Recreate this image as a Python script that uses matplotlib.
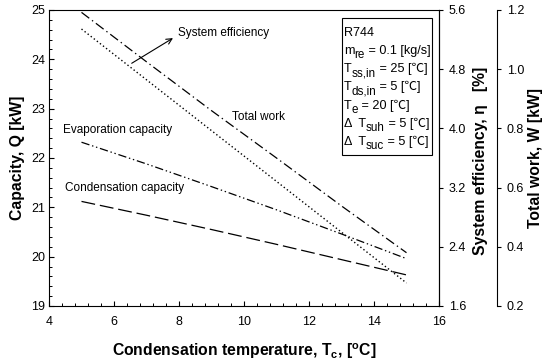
import matplotlib
matplotlib.use("Agg")
import matplotlib.pyplot as plt
from matplotlib.ticker import MultipleLocator, FormatStrFormatter
from matplotlib.patches import Rectangle

plt.rcParams["font.family"] = ["Liberation Sans", "DejaVu Sans"]
plt.rcParams["mathtext.fontset"] = "custom"
plt.rcParams["mathtext.rm"] = "Liberation Sans"
plt.rcParams["mathtext.it"] = "Liberation Sans:italic"
plt.rcParams["mathtext.bf"] = "Liberation Sans:bold"
plt.rcParams["lines.scale_dashes"] = False

# Condensation temperature [C]
cond_temp = [5, 7, 9, 11, 13, 15]
# Capacities [kW] (left axis)
evap_capacity = [22.32, 21.88, 21.42, 20.95, 20.46, 19.96]
cond_capacity = [21.12, 20.84, 20.55, 20.25, 19.94, 19.63]
# System efficiency [%] (first right axis)
system_eff = [5.343, 4.657, 3.970, 3.284, 2.597, 1.911]
# Total work [kW] (second right axis)
total_work = [1.192, 1.025, 0.860, 0.700, 0.538, 0.380]

x_ticks = [4, 6, 8, 10, 12, 14, 16]
q_ticks = [19, 20, 21, 22, 23, 24, 25]
eta_ticks = [1.6, 2.4, 3.2, 4.0, 4.8, 5.6]
w_ticks = [0.2, 0.4, 0.6, 0.8, 1.0, 1.2]

W, H = 555, 362
fig = plt.figure(figsize=(W / 100, H / 100), dpi=100)
ax = fig.add_axes([49 / W, 1 - 306 / H, 390 / W, 296 / H])
ax_eta = ax.twinx()
ax_w = ax.twinx()

lw = 0.9
ax.plot(cond_temp, evap_capacity, color="black", lw=lw,
        linestyle=(0, (6, 2, 1, 2, 1, 2)))
ax.plot(cond_temp, cond_capacity, color="black", lw=lw,
        linestyle=(0, (10, 3.5)))
ax_eta.plot(cond_temp, system_eff, color="black", lw=1.0,
            linestyle=(0, (1, 1.8)))
ax_w.plot(cond_temp, total_work, color="black", lw=lw,
          linestyle=(0, (7, 2.5, 1, 2.5)))

ax.set_xlim(4, 16)
ax.set_ylim(19, 25)
ax_eta.set_ylim(1.6, 5.6)
ax_w.set_ylim(0.2, 1.2)

tick_fs = 9
ax.set_xticks(x_ticks)
ax.set_yticks(q_ticks)
ax.xaxis.set_minor_locator(MultipleLocator(0.4))
ax.yaxis.set_minor_locator(MultipleLocator(0.2))
ax.tick_params(which="major", direction="in", length=3.4, width=0.8,
               labelsize=tick_fs, top=False, right=False)
ax.tick_params(which="minor", direction="in", length=2.2, width=0.7,
               top=False, right=False)
ax.tick_params(axis="x", which="major", pad=7.5)
ax.tick_params(axis="y", which="major", pad=3)

ax_eta.set_yticks(eta_ticks)
ax_eta.yaxis.set_major_formatter(FormatStrFormatter("%.1f"))
ax_eta.tick_params(direction="out", length=3.0, width=0.8,
                   labelsize=tick_fs, pad=4)
ax_w.set_yticks(w_ticks)
ax_w.yaxis.set_major_formatter(FormatStrFormatter("%.1f"))
ax_w.tick_params(direction="out", length=3.0, width=0.8,
                 labelsize=tick_fs, pad=4)
ax_w.spines["right"].set_position(("axes", 448 / 390))

for a in (ax, ax_eta, ax_w):
    for s in a.spines.values():
        s.set_linewidth(0.8)
for a in (ax_eta, ax_w):
    for side in ("left", "top", "bottom"):
        a.spines[side].set_visible(False)

label_fs = 11.3
ax.set_xlabel(r"Condensation temperature, T$_\mathbf{c}$, [$^\mathbf{o}$C]",
              fontsize=label_fs, fontweight="bold")
ax.xaxis.set_label_coords(0.5, (306 - 341) / 296)
ax.set_ylabel("Capacity, Q [kW]", fontsize=label_fs, fontweight="bold")
ax.yaxis.set_label_coords((25 - 49) / 390, 0.5)
ax_eta.set_ylabel("System efficiency, η   [%]", fontsize=label_fs,
                  fontweight="bold")
ax_eta.yaxis.set_label_coords((473 - 49) / 390, 0.49)
ax_w.set_ylabel("Total work, W [kW]", fontsize=label_fs, fontweight="bold")
ax_w.yaxis.set_label_coords((528 - 49) / 390, 0.5)

# Curve labels
curve_fs = 8.5
ax.text(7.97, 24.53, "System efficiency", fontsize=curve_fs, va="center")
ax.text(9.63, 22.83, "Total work", fontsize=curve_fs, va="center")
ax.text(4.43, 22.57, "Evaporation capacity", fontsize=curve_fs, va="center")
ax.text(4.49, 21.39, "Condensation capacity", fontsize=curve_fs, va="center")
ax.annotate("", xy=(7.815, 24.43), xytext=(6.545, 23.92),
            arrowprops=dict(arrowstyle="->", lw=0.8, color="black",
                            shrinkA=0, shrinkB=0, mutation_scale=10))

# Operating-condition box
ax.add_patch(Rectangle((293 / 390, 151 / 296), 90 / 390, 137 / 296,
                       transform=ax.transAxes, fill=False,
                       edgecolor="black", lw=0.8))

box_family = ["Liberation Sans", "Noto Sans CJK KR", "DejaVu Sans"]


def chain_text(x, y, parts, size=9.1):
    prev = None
    for s, sub in parts:
        fs = size * 0.92 if sub else size
        if prev is None:
            t = ax.text(x, y, s, transform=ax.transAxes, fontsize=fs,
                        va="baseline", ha="left", family=box_family)
        else:
            t = ax.annotate(s, xy=(1, y), xycoords=(prev, "axes fraction"),
                            xytext=(0, -2.9 if sub else 0),
                            textcoords="offset points", fontsize=fs,
                            va="baseline", ha="left", family=box_family)
        prev = t


box_lines = [
    [("R744", False)],
    [("m", False), ("re", True), (" = 0.1 [kg/s]", False)],
    [("T", False), ("ss,in", True), (" = 25 [℃]", False)],
    [("T", False), ("ds,in", True), (" = 5 [℃]", False)],
    [("T", False), ("e", True), (" = 20 [℃]", False)],
    [("Δ  T", False), ("suh", True), (" = 5 [℃]", False)],
    [("Δ  T", False), ("suc", True), (" = 5 [℃]", False)],
]
for i, parts in enumerate(box_lines):
    base_px = 35.5 + 18.3 * i
    chain_text(295 / 390, (306 - base_px) / 296, parts)

fig.savefig("out.png", dpi=100)
